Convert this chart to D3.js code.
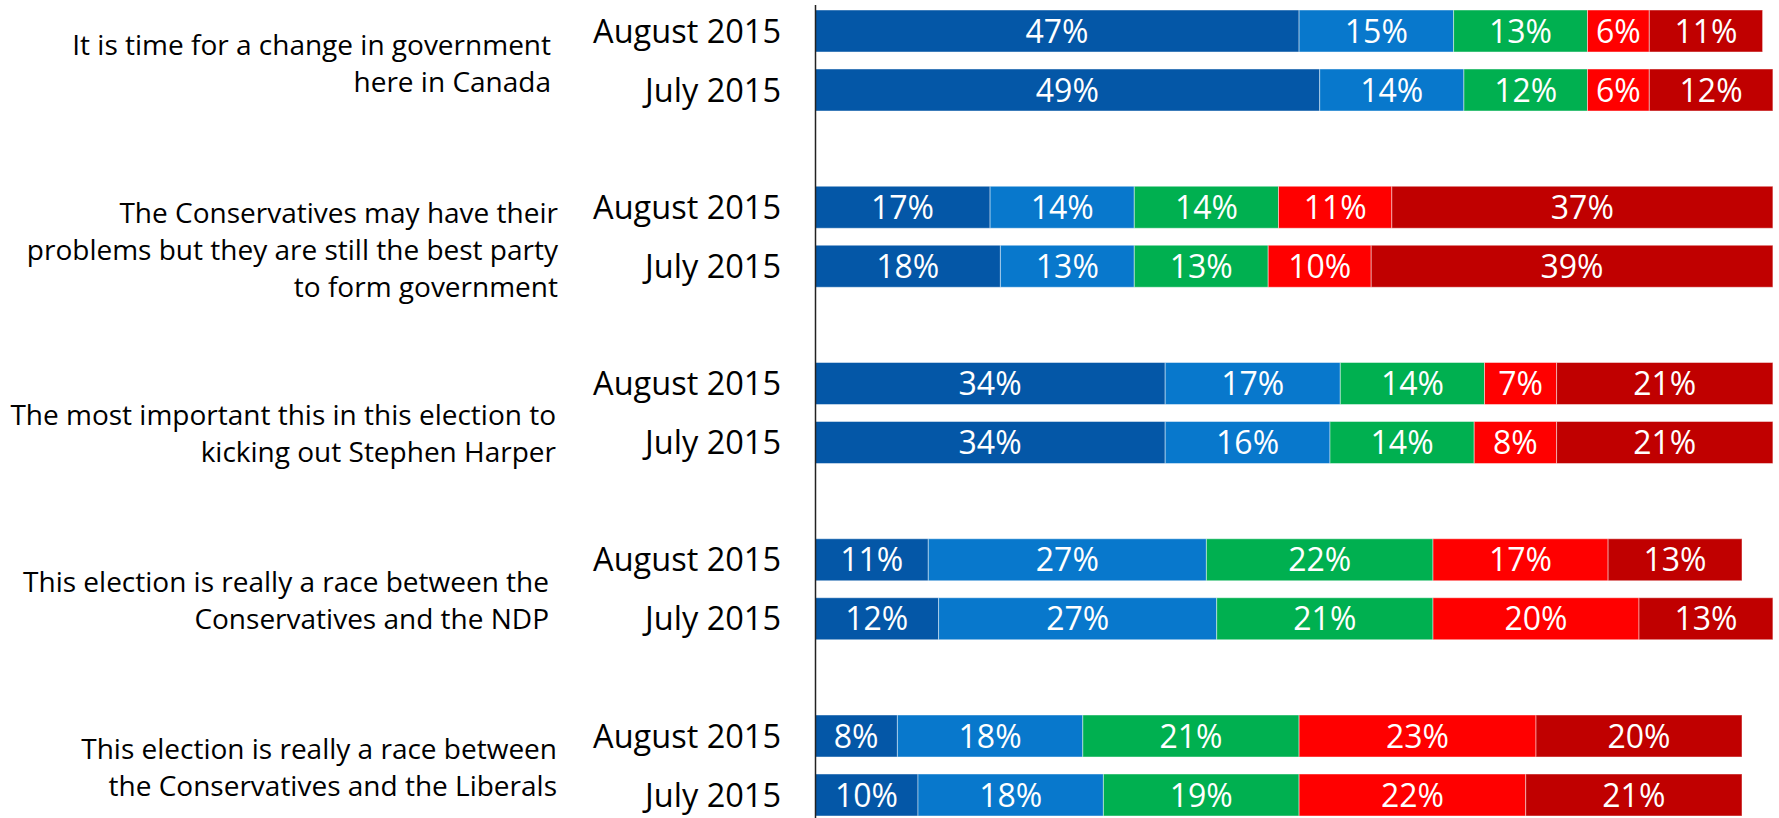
<!DOCTYPE html>
<html>
<head>
<meta charset="utf-8">
<script src="https://cdn.jsdelivr.net/npm/d3@7"></script>
<style>
  html, body { margin: 0; padding: 0; background: #fff; }
  svg { display: block; font-family: "Open Sans", sans-serif; }
</style>
</head>
<body>
<div id="chart"></div>
<script>
// statements, each split into the lines shown
var statements = [
  ["It is time for a change in government", "here in Canada"],
  ["The Conservatives may have their", "problems but they are still the best party", "to form government"],
  ["The most important this in this election to", "kicking out Stephen Harper"],
  ["This election is really a race between the", "Conservatives and the NDP"],
  ["This election is really a race between", "the Conservatives and the Liberals"]
];
var periods = ["August 2015", "July 2015"];

// one value per bar, in order: statement 1 Aug, statement 1 Jul, statement 2 Aug, ...
var seg1 = [47, 49, 17, 18, 34, 34, 11, 12, 8, 10];
var seg2 = [15, 14, 14, 13, 17, 16, 27, 27, 18, 18];
var seg3 = [13, 12, 14, 13, 14, 14, 22, 21, 21, 19];
var seg4 = [6, 6, 11, 10, 7, 8, 17, 20, 23, 22];
var seg5 = [11, 12, 37, 39, 21, 21, 13, 13, 20, 21];

var segKeys = ["s1", "s2", "s3", "s4", "s5"];
var segColors = ["#0457a7", "#0878cc", "#00b050", "#ff0000", "#c00000"];

// small layout tweaks for the statement text blocks
var labelShift = [3, 13, 21, 11, 2];
var labelRight = [551, 558, 556, 549, 557];

var width = 1779, height = 818;

var rows = [];
statements.forEach(function (s, i) {
  periods.forEach(function (p, j) {
    var k = i * 2 + j;
    rows.push({ group: i, period: p, s1: seg1[k], s2: seg2[k], s3: seg3[k], s4: seg4[k], s5: seg5[k] });
  });
});

var svg = d3.select("#chart").append("svg")
  .attr("width", width)
  .attr("height", height);

var x = d3.scaleLinear().domain([0, 100]).range([815, 1845]);

var y = d3.scaleBand()
  .domain(d3.range(statements.length))
  .range([10, 10 + 176.25 * statements.length]);

var yInner = d3.scaleBand()
  .domain(periods)
  .range([0, 101])
  .paddingInner(0.288);

var stacked = d3.stack().keys(segKeys)(rows);

var layers = svg.selectAll("g.layer")
  .data(stacked)
  .enter().append("g")
  .attr("class", "layer")
  .attr("fill", function (d, i) { return segColors[i]; });

layers.selectAll("rect")
  .data(function (d) { return d; })
  .enter().append("rect")
  .attr("x", function (d) { return x(d[0]); })
  .attr("y", function (d) { return y(d.data.group) + yInner(d.data.period); })
  .attr("width", function (d) { return x(d[1]) - x(d[0]); })
  .attr("height", yInner.bandwidth())
  .attr("stroke", "#ffffff")
  .attr("stroke-opacity", 0.45)
  .attr("stroke-width", 1);

layers.selectAll("text")
  .data(function (d) { return d; })
  .enter().append("text")
  .attr("x", function (d) { return (x(d[0]) + x(d[1])) / 2; })
  .attr("y", function (d) { return y(d.data.group) + yInner(d.data.period) + yInner.bandwidth() / 2; })
  .attr("dy", "0.36em")
  .attr("text-anchor", "middle")
  .attr("fill", "#fff")
  .style("font-size", "32px")
  .text(function (d) { return (d[1] - d[0]) + "%"; });

// period labels
svg.selectAll("text.period")
  .data(rows)
  .enter().append("text")
  .attr("class", "period")
  .attr("x", 781)
  .attr("y", function (d) { return y(d.group) + yInner(d.period) + yInner.bandwidth() / 2; })
  .attr("dy", "0.36em")
  .attr("text-anchor", "end")
  .attr("fill", "#000")
  .style("font-size", "32.5px")
  .text(function (d) { return d.period; });

// statement labels
var lineH = 37;
var st = svg.selectAll("text.statement")
  .data(statements)
  .enter().append("text")
  .attr("class", "statement")
  .attr("text-anchor", "end")
  .attr("fill", "#000")
  .style("font-size", "28px");

st.each(function (lines, i) {
  var cy = y(i) + 101 / 2 + labelShift[i];
  d3.select(this).selectAll("tspan")
    .data(lines)
    .enter().append("tspan")
    .attr("x", labelRight[i])
    .attr("y", function (l, j) { return cy + (j - (lines.length - 1) / 2) * lineH; })
    .attr("dy", "0.35em")
    .text(function (l) { return l; });
});

// vertical axis line
svg.append("line")
  .attr("x1", 815.5).attr("x2", 815.5)
  .attr("y1", 5).attr("y2", height)
  .attr("stroke", "#222")
  .attr("stroke-width", 1.5);
</script>
</body>
</html>
